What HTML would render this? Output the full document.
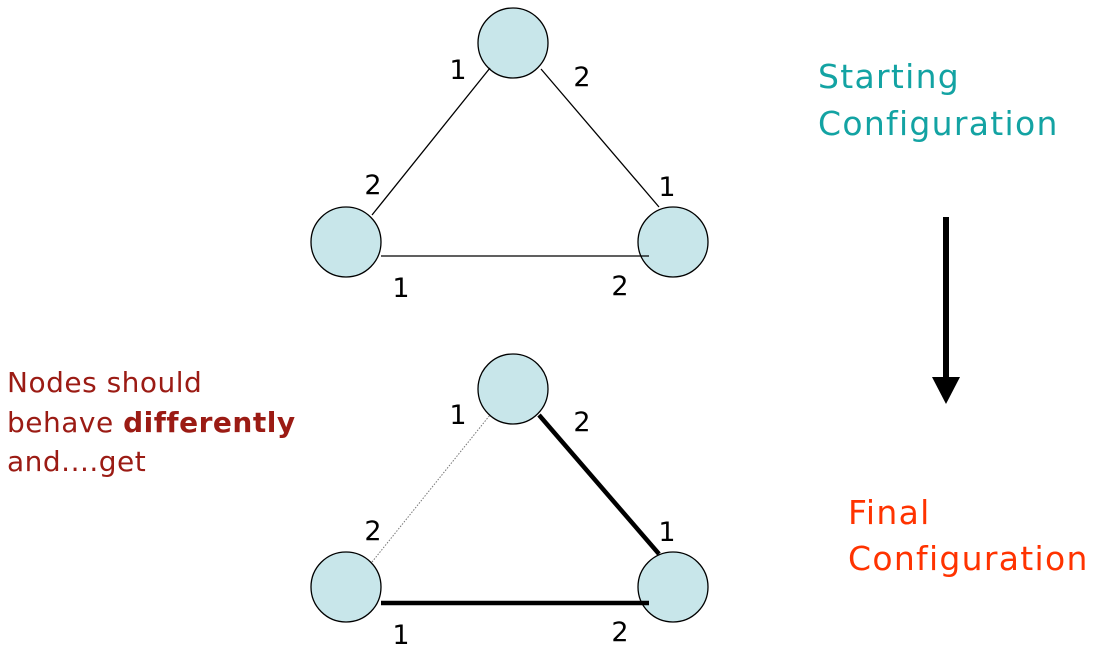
<!DOCTYPE html>
<html><head><style>
body{margin:0;background:#fff;width:1113px;height:651px;overflow:hidden}
svg text{font-family:"DejaVu Sans","Liberation Sans",sans-serif}
</style></head><body>
<svg width="1113" height="651" xmlns="http://www.w3.org/2000/svg">
<g fill="#c8e6ea" stroke="#000" stroke-width="1.3">
<circle cx="513" cy="43" r="35"/>
<circle cx="346" cy="242" r="35"/>
<circle cx="673" cy="242" r="35"/>
<circle cx="513" cy="389" r="35"/>
<circle cx="346" cy="587" r="35"/>
<circle cx="673" cy="587" r="35"/>
</g>
<g stroke="#000" stroke-width="1.3">
<line x1="372" y1="215" x2="490" y2="68"/>
<line x1="541" y1="69" x2="659" y2="207"/>
<line x1="381" y1="256" x2="649" y2="256"/>
<line x1="372" y1="562" x2="490" y2="415" stroke="#777" stroke-width="1" stroke-dasharray="1.5,1.5"/>
<line x1="539" y1="415" x2="659" y2="554" stroke-width="4.5"/>
<line x1="381" y1="603" x2="649" y2="603" stroke-width="4.5"/>
</g>
<g font-size="27" fill="#000" text-anchor="middle">
<text x="458" y="79">1</text><text x="582" y="86">2</text>
<text x="373" y="194">2</text><text x="667" y="196">1</text>
<text x="401" y="297">1</text><text x="620" y="295">2</text>
<text x="458" y="424">1</text><text x="582" y="431">2</text>
<text x="373" y="540">2</text><text x="667" y="541">1</text>
<text x="401" y="644">1</text><text x="620" y="641">2</text>
</g>
<g font-size="33" fill="#13a3a3" letter-spacing="1.3">
<text x="818" y="88">Starting</text>
<text x="818" y="135">Configuration</text>
</g>
<g font-size="33" fill="#ff3300" letter-spacing="1.3">
<text x="848" y="524">Final</text>
<text x="848" y="570">Configuration</text>
</g>
<g font-size="28" fill="#9b1b14" letter-spacing="0.5">
<text x="7" y="392">Nodes should</text>
<text x="7" y="432">behave <tspan font-weight="bold">differently</tspan></text>
<text x="7" y="471">and....get</text>
</g>
<line x1="946" y1="217" x2="946" y2="380" stroke="#000" stroke-width="6"/>
<polygon points="932,377 960,377 946,404" fill="#000"/>
</svg>
</body></html>
